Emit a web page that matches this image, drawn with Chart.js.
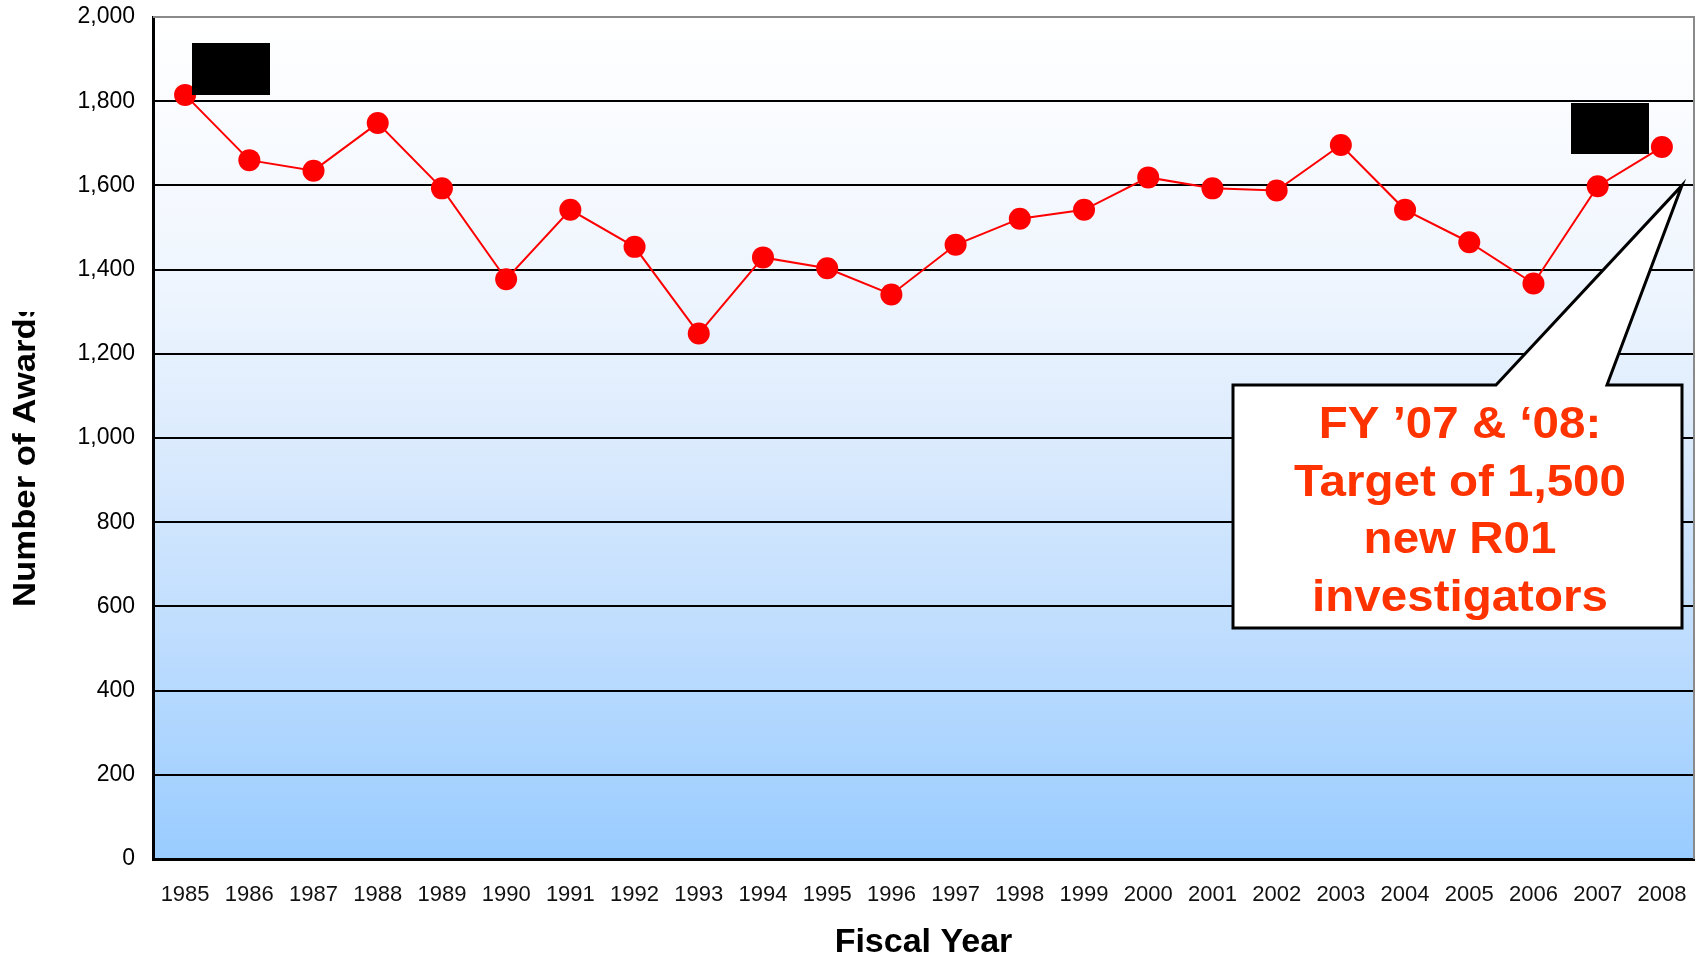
<!DOCTYPE html>
<html>
<head>
<meta charset="utf-8">
<script src="https://cdn.jsdelivr.net/npm/chart.js@4.4.1/dist/chart.umd.min.js"></script>
<style>
  html, body { margin: 0; padding: 0; background: #fff; }
  canvas { display: block; }
</style>
</head>
<body>
<canvas id="awards" width="1698" height="957"></canvas>
<script>
// data
const years = ['1985', '1986', '1987', '1988', '1989', '1990', '1991', '1992', '1993', '1994', '1995', '1996',
  '1997', '1998', '1999', '2000', '2001', '2002', '2003', '2004', '2005', '2006', '2007', '2008'];
const awards = [1815, 1660, 1635, 1748, 1593, 1377, 1542, 1454, 1248, 1429, 1403, 1341,
  1459, 1521, 1542, 1619, 1593, 1588, 1696, 1542, 1465, 1367, 1598, 1691];
const yMin = 0;
const yMax = 2000;
const yStep = 200;
const yTitle = 'Number of Awards';
const xTitle = 'Fiscal Year';
const calloutLines = ['FY \u201907 & \u201808:', 'Target of 1,500', 'new R01', 'investigators'];
const calloutValue = 1600; // where the callout points

const FONT = '"Liberation Sans", Arial, Helvetica, sans-serif';

const decor = {
  id: 'decor',
  beforeDraw(chart) {
    const { ctx, chartArea: a } = chart;
    const g = ctx.createLinearGradient(0, a.top, 0, a.bottom);
    g.addColorStop(0, '#ffffff');
    g.addColorStop(0.3, '#f0f6fe');
    g.addColorStop(0.5, '#dcebfd');
    g.addColorStop(0.75, '#bddcfe');
    g.addColorStop(1, '#99ccff');
    ctx.save();
    ctx.fillStyle = g;
    ctx.fillRect(a.left, a.top, a.right - a.left, a.bottom - a.top);
    ctx.restore();
  },
  afterDraw(chart) {
    const { ctx, chartArea: a } = chart;
    const y = chart.scales.y;
    ctx.save();

    // grey top / right frame
    ctx.strokeStyle = '#8a8a8a';
    ctx.lineWidth = 2;
    ctx.beginPath();
    ctx.moveTo(a.left, a.top);
    ctx.lineTo(a.right, a.top);
    ctx.lineTo(a.right, a.bottom);
    ctx.stroke();

    // black blocks (redactions in the source)
    ctx.fillStyle = '#000';
    ctx.fillRect(a.left + 39, a.top + 26, 78, 52);
    ctx.fillRect(a.left + 1418, a.top + 86, 78, 51);

    // y title, cut off at the top like the original
    ctx.save();
    ctx.beginPath();
    ctx.rect(0, 312, 80, 957 - 312);
    ctx.clip();
    ctx.translate(35, 607);
    ctx.rotate(-Math.PI / 2);
    ctx.scale(1.12, 1);
    ctx.font = 'bold 31px ' + FONT;
    ctx.fillStyle = '#000';
    ctx.textAlign = 'left';
    ctx.textBaseline = 'alphabetic';
    ctx.fillText(yTitle, 0, 0);
    ctx.restore();

    // callout
    const bl = 1233, br = 1682, bt = 385, bb = 628;
    const tipX = a.right - 12, tipY = y.getPixelForValue(calloutValue);
    ctx.beginPath();
    ctx.moveTo(bl, bt);
    ctx.lineTo(1496, bt);
    ctx.lineTo(tipX, tipY);
    ctx.lineTo(1607, bt);
    ctx.lineTo(br, bt);
    ctx.lineTo(br, bb);
    ctx.lineTo(bl, bb);
    ctx.closePath();
    ctx.fillStyle = '#fff';
    ctx.fill();
    ctx.strokeStyle = '#000';
    ctx.lineWidth = 3;
    ctx.lineJoin = 'miter';
    ctx.stroke();

    ctx.font = 'bold 44px ' + FONT;
    ctx.fillStyle = '#ff3300';
    ctx.textAlign = 'center';
    ctx.textBaseline = 'alphabetic';
    calloutLines.forEach((t, i) => {
      ctx.save();
      ctx.translate(1460, 438 + i * 57.5);
      ctx.scale(1.08, 1);
      ctx.fillText(t, 0, 0);
      ctx.restore();
    });
    ctx.restore();
  }
};

new Chart(document.getElementById('awards'), {
  type: 'line',
  data: {
    labels: years,
    datasets: [{
      data: awards,
      borderColor: '#ff0000',
      borderWidth: 2,
      pointRadius: 11,
      pointHoverRadius: 11,
      pointBackgroundColor: '#ff0000',
      pointBorderWidth: 0,
      tension: 0,
      clip: false
    }]
  },
  options: {
    responsive: false,
    animation: false,
    layout: { autoPadding: false, padding: { top: 17, right: 4, left: 0, bottom: 0 } },
    plugins: {
      legend: { display: false },
      tooltip: { enabled: false }
    },
    scales: {
      x: {
        offset: true,
        grid: { display: false, drawTicks: false },
        border: { color: '#000', width: 3 },
        ticks: {
          color: '#111',
          font: { family: FONT, size: 22 },
          padding: 23,
          maxRotation: 0,
          autoSkip: false
        },
        title: {
          display: true,
          text: xTitle,
          color: '#000',
          font: { family: FONT, size: 34, weight: 'bold', lineHeight: 0.85 },
          padding: { top: 0, bottom: 0 }
        },
        afterFit(s) {
          s.height = 98;
          s.paddingLeft = 0;
          s.paddingRight = 0;
        }
      },
      y: {
        min: yMin,
        max: yMax,
        grid: {
          drawTicks: false,
          lineWidth: 2,
          color: c => (c.tick && c.tick.value === yMax ? '#8a8a8a' : '#000')
        },
        border: { color: '#000', width: 3 },
        ticks: {
          stepSize: yStep,
          color: '#000',
          padding: 18,
          font: { family: FONT, size: 23 },
          callback: v => v.toLocaleString('en-US')
        },
        afterFit(s) {
          s.width = 153;
          s.paddingTop = 0;
          s.paddingBottom = 0;
        }
      }
    }
  },
  plugins: [decor]
});
</script>
</body>
</html>
